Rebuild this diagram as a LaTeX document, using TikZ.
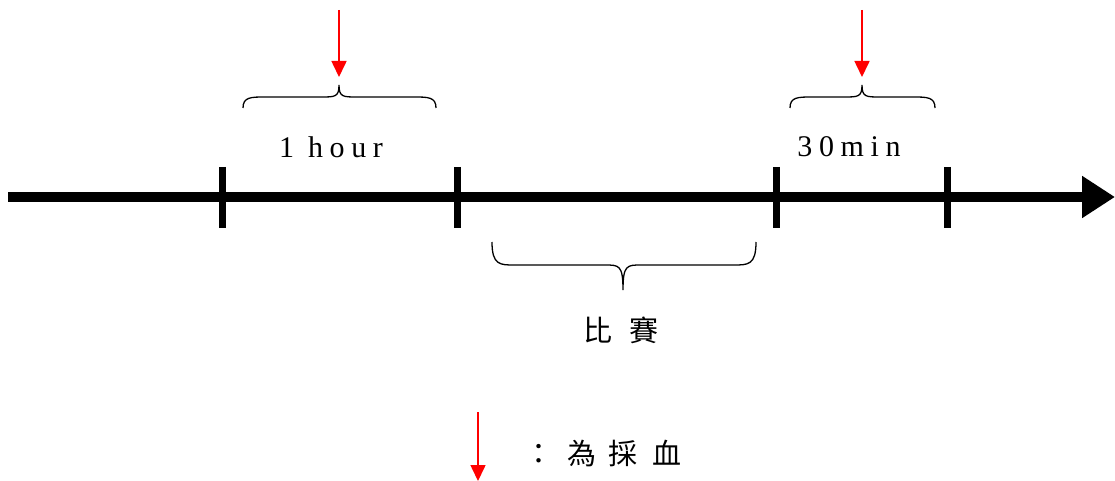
\documentclass[tikz,border=0pt]{standalone}
\usepackage{fontspec}
\setmainfont{Liberation Serif}
\newfontfamily\spacedfont[LetterSpace=22]{Liberation Serif}
\newfontfamily\cjk{Noto Sans CJK TC}
\usetikzlibrary{arrows.meta}
\newcommand\mybrace[6]{% x1,x2,xt,yb,yh,ytip
  \draw[bracestyle] (#1,#4) .. controls (#1,#5) and (#1+8,#5) .. (#1+22,#5) -- (#3-18,#5)
    .. controls (#3-4,#5) and (#3,#5) .. (#3,#6) .. controls (#3,#5) and (#3+4,#5) .. (#3+18,#5)
    -- (#2-22,#5) .. controls (#2-8,#5) and (#2,#5) .. (#2,#4);}
\begin{document}
\begin{tikzpicture}[x=1pt,y=-1pt,
  axisline/.style={line width=10pt,-{Triangle[length=33pt,width=40pt]}},
  tick/.style={line width=7pt},
  bracestyle/.style={line width=1.3pt},
  sample/.style={red,line width=1.6pt,-{Triangle[length=16pt,width=15pt]}},
  lab/.style={font=\fontsize{30}{32}\selectfont\spacedfont},
  cjklab/.style={font=\fontsize{29}{31}\selectfont\cjk}]
\useasboundingbox (0,0) rectangle (1115,481);
% axis
\coordinate (a0) at (8,197);
\coordinate (a1) at (1115,197);
\draw[axisline] (a0) -- (a1);
% ticks
\foreach \n/\x in {t1/222,t2/457,t3/776,t4/947}{
  \coordinate (\n top) at (\x,167);
  \coordinate (\n bot) at (\x,228);
  \draw[tick] (\n top) -- (\n bot);
}
% braces
\mybrace{243}{436}{339}{108}{97}{85}
\mybrace{790}{935}{862}{108}{97}{85}
\mybrace{492}{756}{623}{242}{265}{290}
% sample arrows
\coordinate (s1a) at (339,10); \coordinate (s1b) at (339,77);
\coordinate (s2a) at (862,10); \coordinate (s2b) at (862,77);
\coordinate (s3a) at (478,412); \coordinate (s3b) at (478,481);
\draw[sample] (s1a) -- (s1b);
\draw[sample] (s2a) -- (s2b);
\draw[sample] (s3a) -- (s3b);
% labels
\node[lab] (hour) at (331,147) {1 hour};
\node[lab] (min) at (849,147) {30min};
\node[cjklab,anchor=west] (game) at (580,330) {比\hspace{17pt}賽};
\node[cjklab,anchor=west] (legend) at (521,453) {：\hspace{14pt}為\hspace{12pt}採\hspace{15pt}血};
\end{tikzpicture}
\end{document}
